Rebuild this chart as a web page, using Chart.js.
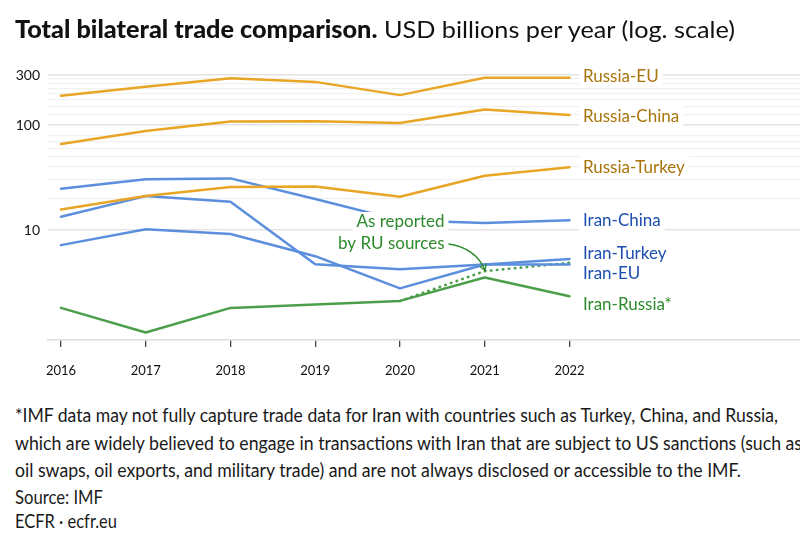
<!DOCTYPE html>
<html><head><meta charset="utf-8">
<script src="https://cdn.jsdelivr.net/npm/chart.js@4"></script>
<style>
body{margin:0;width:800px;height:533px;background:#fff;position:relative;overflow:hidden;font-family:Lato,"Open Sans",sans-serif;}
.t{position:absolute;white-space:nowrap;transform-origin:0 50%;color:#1a1a1a;}
#c{position:absolute;left:0;top:0;}
</style></head><body>
<canvas id="c" width="800" height="400"></canvas>
<div class="t" data-w="720" style="left:15px;top:14px;font-size:24px;line-height:30px;color:#111"><b style="font-weight:900">Total bilateral trade comparison.</b> USD billions per year (log. scale)</div>
<div class="t" data-w="763" style="left:15px;top:404px;font-size:18.5px;line-height:22px">*IMF data may not fully capture trade data for Iran with countries such as Turkey, China, and Russia,</div>
<div class="t" data-w="787" style="left:15px;top:432px;font-size:18.5px;line-height:22px">which are widely believed to engage in transactions with Iran that are subject to US sanctions (such as</div>
<div class="t" data-w="726" style="left:15px;top:459px;font-size:18.5px;line-height:22px">oil swaps, oil exports, and military trade) and are not always disclosed or accessible to the IMF.</div>
<div class="t" data-w="88" style="left:15px;top:486px;font-size:18.5px;line-height:22px">Source: IMF</div>
<div class="t" data-w="102" style="left:15px;top:510px;font-size:18.5px;line-height:22px">ECFR · ecfr.eu</div>
<script>
const years=[2016,2017,2018,2019,2020,2021,2022];
const russiaEU=[190,232,279,258,193,282,282];
const russiaChina=[66,88,108,109,105,141,125];
const russiaTurkey=[15.7,21.1,25.7,26.1,20.8,32.9,39.8];
const iranChina=[24.8,30.6,31.1,19.8,12.4,11.7,12.4];
const iranTurkey=[7.2,10.2,9.2,5.65,2.79,4.71,5.3];
const iranEU=[13.4,21.1,18.6,4.74,4.25,4.71,4.7];
const iranRussia=[1.82,1.06,1.82,1.96,2.12,3.54,2.35];
const iranRussiaRU=[null,null,null,null,2.12,4.07,4.89];
const yTickLabels=[10,100,300];
const yGridValues=[10,20,30,40,50,60,70,80,100,125,150,175,200,225,250,275,300];
const seriesNames=['Russia-EU','Russia-China','Russia-Turkey','Iran-China','Iran-Turkey','Iran-EU','Iran-Russia*'];

const ORANGE='#E8A526', BLUE='#5B8FDD', GREEN='#4C9F4A';
const LBL_OR='#A9740C', LBL_BL='#1D4DB0', LBL_GR='#2C8A2C';

function pts(arr){return years.map((y,i)=>({x:y,y:arr[i]}));}
const seriesData=[russiaEU,russiaChina,russiaTurkey,iranChina,iranTurkey,iranEU,iranRussia];
const seriesColors=[ORANGE,ORANGE,ORANGE,BLUE,BLUE,BLUE,GREEN];
const labelColors=[LBL_OR,LBL_OR,LBL_OR,LBL_BL,LBL_BL,LBL_BL,LBL_GR];
const labelOffsets=[-1,2,0,0,-6,9,8];

const datasets=seriesData.map((d,i)=>({label:seriesNames[i],data:pts(d),borderColor:seriesColors[i],borderWidth:2.5,pointRadius:0,fill:false}));
datasets.push({label:'Iran-Russia (RU sources)',data:pts(iranRussiaRU),borderColor:GREEN,borderWidth:2.6,borderDash:[0.5,5.5],borderCapStyle:'round',pointRadius:0,fill:false,spanGaps:false});

const labelPlugin={
  id:'labels',
  afterDatasetsDraw(chart){
    const ctx=chart.ctx, xs=chart.scales.x, ys=chart.scales.y;
    ctx.save();
    ctx.font='17px Lato, "Open Sans", sans-serif';
    ctx.textBaseline='middle';
    const lx=xs.getPixelForValue(2022)+13.5;
    seriesNames.forEach((n,i)=>{
      const d=seriesData[i];
      const y=ys.getPixelForValue(d[d.length-1])+labelOffsets[i];
      const w=ctx.measureText(n).width;
      ctx.fillStyle='#fff';
      ctx.fillRect(lx-4,y-11,w+8,22);
      ctx.fillStyle=labelColors[i];
      ctx.textAlign='left';
      ctx.fillText(n,lx,y);
    });
    // annotation
    const tx=444.5;
    const lines=['As reported','by RU sources'];
    const ly=[222,243.5];
    ctx.textAlign='right';
    lines.forEach((s,i)=>{
      const w=ctx.measureText(s).width;
      ctx.fillStyle='#fff';
      ctx.fillRect(tx-w-4,ly[i]-10,w+8,20);
    });
    lines.forEach((s,i)=>{
      ctx.fillStyle=LBL_GR;
      ctx.fillText(s,tx,ly[i]);
    });
    // arrow
    const ex=xs.getPixelForValue(2021)+0.5, ey=ys.getPixelForValue(iranRussiaRU[5])-0.5;
    const sx=448.5, sy=244, cx=476, cy=248;
    ctx.strokeStyle=LBL_GR; ctx.lineWidth=1.3;
    ctx.beginPath(); ctx.moveTo(sx,sy); ctx.quadraticCurveTo(cx,cy,ex,ey); ctx.stroke();
    const ang=Math.atan2(ey-cy,ex-cx);
    ctx.beginPath();
    ctx.moveTo(ex-7*Math.cos(ang-0.5),ey-7*Math.sin(ang-0.5));
    ctx.lineTo(ex,ey);
    ctx.lineTo(ex-7*Math.cos(ang+0.5),ey-7*Math.sin(ang+0.5));
    ctx.stroke();
    ctx.restore();
  }
};

new Chart(document.getElementById('c'),{
  type:'line',
  data:{datasets},
  plugins:[labelPlugin],
  options:{
    responsive:false,animation:false,
    layout:{padding:{top:75,left:0,right:0,bottom:0}},
    plugins:{legend:{display:false},tooltip:{enabled:false}},
    elements:{line:{tension:0,borderCapStyle:'round',borderJoinStyle:'round'}},
    scales:{
      x:{type:'linear',min:2015.847,max:2024.72,
        afterBuildTicks:s=>{s.ticks=years.map(v=>({value:v}));},
        afterFit:s=>{s.height=60;},
        grid:{drawOnChartArea:false,drawTicks:true,tickLength:7,color:'#444',lineWidth:1.3},
        border:{display:true,color:'#dcdcdc',width:1.5},
        ticks:{padding:16,color:'#111',font:{family:'Lato',size:13},autoSkip:false,maxRotation:0,callback:v=>String(v)}
      },
      y:{type:'logarithmic',min:0.9,max:300,
        afterBuildTicks:s=>{s.ticks=yGridValues.map(v=>({value:v}));},
        afterFit:s=>{s.width=48;},
        grid:{drawTicks:false,
          color:c=>yTickLabels.includes(c.tick&&c.tick.value)?'#e3e3e3':'#f1f1f1',
          lineWidth:c=>yTickLabels.includes(c.tick&&c.tick.value)?1.5:1.2},
        border:{display:false},
        ticks:{padding:8,color:'#111',font:{family:'Lato',size:14},autoSkip:false,
          callback:v=>yTickLabels.includes(v)?String(v):''}
      }
    }
  }
});

document.querySelectorAll('.t[data-w]').forEach(el=>{
  const w=el.getBoundingClientRect().width;
  el.style.transform='scaleX('+(parseFloat(el.dataset.w)/w)+')';
});
</script>
</body></html>
